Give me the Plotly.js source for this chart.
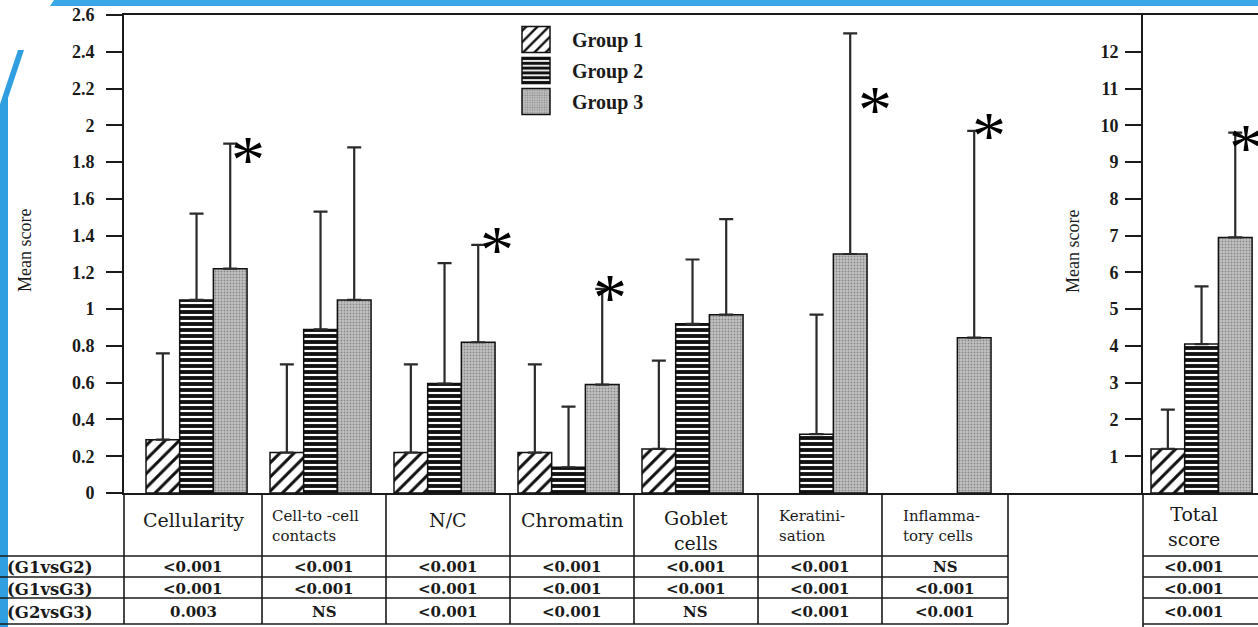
<!DOCTYPE html>
<html>
<head>
<meta charset="utf-8">
<script src="https://cdn.plot.ly/plotly-3.0.1.min.js"></script>
<style>html,body{margin:0;padding:0;background:#fff;}#chart{width:1258px;height:627px;}</style>
</head>
<body>
<div id="chart"></div>
<script>
// ---------- data ----------
const categories = ["Cellularity", "Cell-to -cell contacts", "N/C", "Chromatin", "Goblet cells", "Keratinisation", "Inflammatory cells"];
const groupNames = ["Group 1", "Group 2", "Group 3"];

const group1Mean = [0.29, 0.22, 0.22, 0.22, 0.24, null, null];
const group1Upper = [0.76, 0.70, 0.70, 0.70, 0.72, null, null];
const group2Mean = [1.05, 0.89, 0.595, 0.14, 0.92, 0.32, null];
const group2Upper = [1.52, 1.53, 1.25, 0.47, 1.27, 0.97, null];
const group3Mean = [1.22, 1.05, 0.82, 0.59, 0.97, 1.30, 0.845];
const group3Upper = [1.90, 1.88, 1.35, 1.11, 1.49, 2.50, 1.97];

const totalCategory = "Total score";
const totalMean = [1.2, 4.05, 6.95];     // group 1, 2, 3
const totalUpper = [2.27, 5.62, 9.8];

const leftTickLabels = ["0", "0.2", "0.4", "0.6", "0.8", "1", "1.2", "1.4", "1.6", "1.8", "2", "2.2", "2.4", "2.6"];
const rightTickLabels = ["1", "2", "3", "4", "5", "6", "7", "8", "9", "10", "11", "12"];

const headerLines = [["Cellularity"], ["Cell-to -cell", "contacts"], ["N/C"], ["Chromatin"], ["Goblet", "cells"], ["Keratini-", "sation"], ["Inflamma-", "tory cells"]];
const totalHeaderLines = ["Total", "score"];
const rowLabels = ["(G1vsG2)", "(G1vsG3)", "(G2vsG3)"];
const pG1vsG2 = ["<0.001", "<0.001", "<0.001", "<0.001", "<0.001", "<0.001", "NS"];
const pG1vsG3 = ["<0.001", "<0.001", "<0.001", "<0.001", "<0.001", "<0.001", "<0.001"];
const pG2vsG3 = ["0.003", "NS", "<0.001", "<0.001", "NS", "<0.001", "<0.001"];
const pTotal = ["<0.001", "<0.001", "<0.001"];

// ---------- helpers ----------
const W = 1258, H = 627;
const X = px => px / W;
const Y = py => 1 - py / H;
const ink = '#1a1a1a';
const serif = 'Liberation Serif';
const tableFont = 'DejaVu Serif';
const idx = categories.map((_, i) => i);
const up = (mean, upper) => mean.map((m, i) => (m == null || upper[i] == null) ? null : +(upper[i] - m).toFixed(3));
const zeros = a => a.map(() => 0);

const styles = [
  {color: '#ffffff', pattern: {shape: '/', fgcolor: '#111', bgcolor: '#ffffff', size: 10, solidity: 0.3}},
  {color: '#ffffff', pattern: {shape: '-', fgcolor: '#111', bgcolor: '#ffffff', size: 6, solidity: 0.64}},
  {color: '#bdbdbd', pattern: {shape: '.', fgcolor: '#888888', bgcolor: '#c2c2c2', size: 3, solidity: 0.3}}
];
function marker(i) {
  return {color: styles[i].color, pattern: styles[i].pattern, line: {color: '#111', width: 1.5}};
}
function errY(mean, upper) {
  return {type: 'data', symmetric: false, array: up(mean, upper), arrayminus: zeros(mean), color: '#2a2a2a', thickness: 2.2, width: 7};
}

const means = [group1Mean, group2Mean, group3Mean];
const uppers = [group1Upper, group2Upper, group3Upper];

const traces = [];
for (let g = 0; g < 3; g++) {
  traces.push({
    type: 'bar', name: groupNames[g], legendgroup: 'g' + g,
    x: idx, y: means[g], text: categories, hoverinfo: 'text+y',
    textposition: 'none',
    marker: marker(g), error_y: errY(means[g], uppers[g]),
    xaxis: 'x', yaxis: 'y'
  });
}
for (let g = 0; g < 3; g++) {
  traces.push({
    type: 'bar', name: groupNames[g], legendgroup: 'g' + g, showlegend: false,
    x: [0], y: [totalMean[g]], text: [totalCategory], textposition: 'none',
    marker: marker(g), error_y: errY([totalMean[g]], [totalUpper[g]]),
    xaxis: 'x2', yaxis: 'y2'
  });
}

// ---------- table ----------
const colEdges = [124, 262, 386, 510, 634, 758, 882, 1008];
const rowLines = [556, 577, 598, 624];
const rowCenters = [567, 589, 612];
const shapes = [];
const lineStyle = {color: ink, width: 1.6};
function hline(y, x0, x1) { shapes.push({type: 'line', xref: 'paper', yref: 'paper', x0: X(x0), x1: X(x1), y0: Y(y), y1: Y(y), line: lineStyle}); }
function vline(x, y0, y1) { shapes.push({type: 'line', xref: 'paper', yref: 'paper', x0: X(x), x1: X(x), y0: Y(y0), y1: Y(y1), line: lineStyle}); }
rowLines.forEach(y => { hline(y, 0, 1008); hline(y, 1143, W); });
colEdges.forEach(x => vline(x, 493, 624));
vline(1143, 493, H);

// slide decoration
function pathPx(pts) { return 'M' + pts.map(p => X(p[0]).toFixed(5) + ',' + Y(p[1]).toFixed(5)).join('L') + 'Z'; }
shapes.push({type: 'path', xref: 'paper', yref: 'paper', layer: 'below', line: {width: 0}, fillcolor: '#3aa7e6', path: pathPx([[54, 0], [W, 0], [W, 6], [50, 6]])});
shapes.push({type: 'path', xref: 'paper', yref: 'paper', layer: 'below', line: {width: 0}, fillcolor: '#2f9fe2', path: pathPx([[18, 50], [24, 50], [8, 98], [8, H], [0, H], [0, 104]])});

const annotations = [];
const colCenters = colEdges.slice(0, 7).map((x, i) => (x + colEdges[i + 1]) / 2);
function txt(text, x, y, size, opts) {
  annotations.push(Object.assign({text: text, xref: 'paper', yref: 'paper', x: X(x), y: Y(y), showarrow: false,
    xanchor: 'center', yanchor: 'middle', font: {family: tableFont, size: size, color: ink}}, opts || {}));
}
// header
headerLines.forEach((lines, i) => {
  if (lines.length === 1) {
    txt(lines[0], colCenters[i], 520, 19);
  } else if (i === 4) {
    txt(lines.join('<br>'), colCenters[i], 530, 19, {align: 'center'});
  } else {
    const left = colEdges[i] + (i === 1 ? 8 : 19);
    txt(lines.join('<br>'), left, 526, 15, {xanchor: 'left', align: 'left'});
  }
});
txt(totalHeaderLines.join('<br>'), 1194, 526, 19, {align: 'center'});
// rows
const valFont = {family: tableFont, size: 15, color: ink, weight: 'bold'};
const pRows = [pG1vsG2, pG1vsG3, pG2vsG3];
rowLabels.forEach((lab, r) => {
  txt(lab, 5, rowCenters[r], 17, {xanchor: 'left', font: {family: tableFont, size: 16.5, color: ink, weight: 'bold'}});
  pRows[r].forEach((v, c) => txt(v, colCenters[c], rowCenters[r], 15, {font: valFont}));
  txt(pTotal[r], 1194, rowCenters[r], 15, {font: valFont});
});

// axis titles
txt('Mean score', 25, 251, 18, {textangle: -90, font: {family: serif, size: 18, color: ink}});
txt('Mean score', 1073, 252, 18, {textangle: -90, font: {family: serif, size: 18, color: ink}});

// significance stars (next to group 3 error bars)
const g3off = (1 - 0.185) / 3;
function star(x, y, dx, xa, ya) {
  annotations.push({text: '*', xref: xa, yref: ya, x: x + g3off, y: y, xshift: dx, yshift: -8, showarrow: false,
    xanchor: 'center', yanchor: 'middle', font: {family: serif, size: 68, color: '#000'}});
}
star(0, 1.86, 18, 'x', 'y');
star(2, 1.37, 19, 'x', 'y');
star(3, 1.11, 8, 'x', 'y');
star(5, 2.13, 25, 'x', 'y');
star(6, 1.99, 15, 'x', 'y');
star(0, 9.64, 11, 'x2', 'y2');

const tickFont = {family: serif, size: 18, color: ink, weight: 'bold'};
const yCommon = {ticks: 'outside', ticklen: 16, tickwidth: 2, tickcolor: ink, showline: true, linecolor: ink, linewidth: 2,
  showgrid: false, zeroline: false, tickfont: tickFont, fixedrange: true};
const xCommon = {showline: true, mirror: true, linecolor: ink, linewidth: 2, showticklabels: false, ticks: '',
  showgrid: false, zeroline: false, fixedrange: true};

const layout = {
  width: W, height: H, margin: {l: 0, r: 0, t: 0, b: 0},
  paper_bgcolor: '#fff', plot_bgcolor: '#fff',
  barmode: 'group', bargap: 0.185, bargroupgap: 0,
  showlegend: true,
  legend: {x: X(500), y: Y(20), xanchor: 'left', yanchor: 'top', bgcolor: 'rgba(0,0,0,0)', borderwidth: 0,
    itemwidth: 62, tracegroupgap: 2, font: {family: serif, size: 20, color: ink, weight: 'bold'}},
  xaxis: Object.assign({domain: [X(124), X(1143)], range: [-0.585, 7.633], anchor: 'y'}, xCommon),
  yaxis: Object.assign({domain: [Y(493), Y(15)], range: [0, 2.6], anchor: 'x',
    tickvals: leftTickLabels.map(Number), ticktext: leftTickLabels, ticklabelstandoff: 8}, yCommon),
  xaxis2: Object.assign({domain: [X(1143), 1], range: [-0.472, 0.455], anchor: 'y2'}, xCommon),
  yaxis2: Object.assign({domain: [Y(493), Y(15)], range: [0, 13], anchor: 'x2',
    tickvals: rightTickLabels.map(Number), ticktext: rightTickLabels, ticklabelstandoff: 3}, yCommon),
  shapes: shapes,
  annotations: annotations
};

function bigSwatches() {
  document.querySelectorAll('#chart .legend .legendpoints path').forEach(p => p.setAttribute('d', 'M14,13H-14V-13H14Z'));
}
Plotly.newPlot('chart', traces, layout, {displayModeBar: false, staticPlot: true}).then(() => {
  bigSwatches();
  setTimeout(bigSwatches, 0);
  requestAnimationFrame(bigSwatches);
});
</script>
</body>
</html>
